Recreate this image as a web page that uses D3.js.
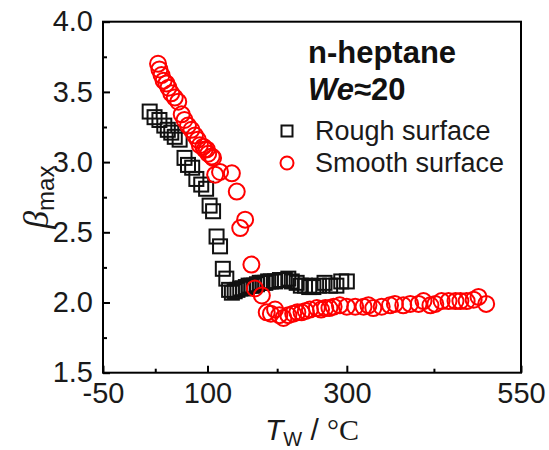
<!DOCTYPE html>
<html>
<head>
<meta charset="utf-8">
<script src="https://cdn.jsdelivr.net/npm/d3@7"></script>
<style>
body { margin: 0; background: #fff; }
svg text { font-family: Arial, "Liberation Sans", sans-serif; }
</style>
</head>
<body>
<script>
var svgWidth = 549;
var svgHeight = 450;

// rough surface (black squares): wall temperature, beta max
var roughT = [17, 24, 31, 38, 43, 48, 53, 60, 67, 72, 78, 84, 91, 98, 103, 108, 113, 118, 122, 127,
    131, 135, 139, 143, 147, 151, 155, 159, 163, 167, 171, 175, 179, 183, 187, 191, 197, 204, 211, 216,
    221, 228, 234, 240, 246, 252, 260, 268, 276, 285, 292, 300];
var roughBeta = [3.36, 3.32, 3.30, 3.26, 3.23, 3.21, 3.18, 3.16, 3.03, 2.98, 2.96, 2.88, 2.84, 2.81, 2.69, 2.65, 2.47, 2.40, 2.24, 2.17,
    2.09, 2.07, 2.08, 2.09, 2.10, 2.10, 2.11, 2.12, 2.12, 2.12, 2.13, 2.14, 2.14, 2.14, 2.15, 2.15, 2.15, 2.16, 2.16, 2.17,
    2.15, 2.14, 2.12, 2.12, 2.11, 2.11, 2.12, 2.14, 2.12, 2.12, 2.15, 2.15];

// smooth surface (red circles)
var smoothT = [29, 31, 34, 37, 41, 44, 48, 53, 58, 63, 67, 72, 77, 82, 86, 89, 94, 96, 99, 101, 106, 108, 111, 118, 135, 142,
    147, 154, 163, 168, 178,
    185, 191, 197, 203, 209, 216, 223, 229, 235, 241, 247, 257, 263, 269, 275, 281, 290, 300, 312, 324, 331, 338,
    350, 362, 369, 381, 391, 403, 410, 420, 427, 436, 446, 456, 463, 472, 482, 489, 500];
var smoothBeta = [3.70, 3.66, 3.62, 3.58, 3.56, 3.53, 3.49, 3.46, 3.43, 3.34, 3.30, 3.26, 3.23, 3.19, 3.16, 3.12, 3.11, 3.09, 3.09, 3.06, 3.04, 3.03, 2.91, 2.93, 2.92, 2.79,
    2.53, 2.59, 2.27, 2.10, 2.05,
    1.93, 1.92, 1.95, 1.91, 1.89, 1.91, 1.92, 1.93, 1.93, 1.94, 1.95, 1.96, 1.95, 1.96, 1.96, 1.97, 1.98, 1.97, 1.97, 1.97, 1.98, 1.96,
    1.97, 1.98, 1.99, 1.98, 1.99, 1.99, 2.01, 1.98, 1.99, 2.01, 2.01, 2.01, 2.01, 2.01, 2.02, 2.04, 1.99];

var xTicks = [-50, 100, 300, 550];
var xMinor = [25, 200, 425];
var yTicks = [1.5, 2.0, 2.5, 3.0, 3.5, 4.0];
var yMinor = [1.75, 2.25, 2.75, 3.25, 3.75];

var plotLeft = 103, plotRight = 521, plotTop = 21.7, plotBottom = 372.7;

var x = d3.scaleLinear().domain([-50, 550]).range([plotLeft, plotRight]);
var y = d3.scaleLinear().domain([1.5, 4.0]).range([plotBottom, plotTop]);

var svg = d3.select("body")
    .append("svg")
    .attr("width", svgWidth)
    .attr("height", svgHeight);

// frame
svg.append("rect")
    .attr("x", plotLeft).attr("y", plotTop)
    .attr("width", plotRight - plotLeft).attr("height", plotBottom - plotTop)
    .attr("fill", "none")
    .attr("stroke", "#000")
    .attr("stroke-width", 2);

svg.append("g")
    .attr("transform", "translate(0," + plotBottom + ")")
    .call(d3.axisBottom(x).tickValues(xTicks).tickSizeInner(-7).tickSizeOuter(0).tickPadding(10)
        .tickFormat(function (d) { return String(d); }));
svg.append("g")
    .attr("transform", "translate(0," + plotBottom + ")")
    .call(d3.axisBottom(x).tickValues(xMinor).tickSizeInner(-4).tickSizeOuter(0).tickFormat(""));

svg.append("g")
    .attr("transform", "translate(" + plotLeft + ",0)")
    .call(d3.axisLeft(y).tickValues(yTicks).tickSizeInner(-7).tickSizeOuter(0).tickPadding(10)
        .tickFormat(function (d) { return d.toFixed(1); }));
svg.append("g")
    .attr("transform", "translate(" + plotLeft + ",0)")
    .call(d3.axisLeft(y).tickValues(yMinor).tickSizeInner(-4).tickSizeOuter(0).tickFormat(""));

svg.selectAll(".domain").remove();
svg.selectAll(".tick line").attr("stroke", "#000").attr("stroke-width", 2);
svg.selectAll(".tick text")
    .attr("font-family", "Arial, 'Liberation Sans', sans-serif")
    .attr("font-size", 29)
    .attr("fill", "#1a1a1a");

// data
var roughData = roughT.map(function (t, i) { return [t, roughBeta[i]]; });
var smoothData = smoothT.map(function (t, i) { return [t, smoothBeta[i]]; });

var sq = 14;
svg.append("g").selectAll("rect")
    .data(roughData)
    .enter()
    .append("rect")
    .attr("x", function (d) { return x(d[0]) - sq / 2; })
    .attr("y", function (d) { return y(d[1]) - sq / 2; })
    .attr("width", sq)
    .attr("height", sq)
    .attr("fill", "none")
    .attr("stroke", "#111")
    .attr("stroke-width", 2);

svg.append("g").selectAll("circle")
    .data(smoothData)
    .enter()
    .append("circle")
    .attr("cx", function (d) { return x(d[0]); })
    .attr("cy", function (d) { return y(d[1]); })
    .attr("r", 8)
    .attr("fill", "none")
    .attr("stroke", "#ff0000")
    .attr("stroke-width", 2);

// legend
svg.append("text")
    .attr("x", 308).attr("y", 63)
    .attr("font-size", 31)
    .attr("font-weight", "bold")
    .attr("fill", "#111")
    .text("n-heptane");

var we = svg.append("text")
    .attr("x", 308).attr("y", 100)
    .attr("font-size", 31)
    .attr("font-weight", "bold")
    .attr("fill", "#111");
we.append("tspan").attr("font-style", "italic").text("We");
we.append("tspan").text("≈20");

svg.append("rect")
    .attr("x", 287 - 5.5).attr("y", 131 - 5.5)
    .attr("width", 11).attr("height", 11)
    .attr("fill", "none").attr("stroke", "#111").attr("stroke-width", 2);
svg.append("text")
    .attr("x", 315).attr("y", 140)
    .attr("font-size", 27)
    .attr("fill", "#1a1a1a")
    .text("Rough surface");

svg.append("circle")
    .attr("cx", 287).attr("cy", 163)
    .attr("r", 6.5)
    .attr("fill", "none").attr("stroke", "#ff0000").attr("stroke-width", 2);
svg.append("text")
    .attr("x", 315).attr("y", 172)
    .attr("font-size", 27)
    .attr("fill", "#1a1a1a")
    .text("Smooth surface");

// axis titles
var xt = svg.append("text")
    .attr("x", (plotLeft + plotRight) / 2).attr("y", 440)
    .attr("text-anchor", "middle")
    .attr("font-size", 30)
    .attr("fill", "#1a1a1a");
xt.append("tspan").attr("font-style", "italic").text("T");
xt.append("tspan").attr("font-size", 20).attr("dy", 6).text("W");
xt.append("tspan").attr("dy", -6).text(" / ");
xt.append("tspan").attr("font-family", "'Liberation Serif', 'Times New Roman', serif").text("°C");

var yt = svg.append("text")
    .attr("transform", "translate(48," + ((plotTop + plotBottom) / 2) + ") rotate(-90)")
    .attr("text-anchor", "middle")
    .attr("font-size", 36)
    .attr("fill", "#1a1a1a");
yt.append("tspan").attr("font-style", "italic")
    .attr("font-family", "'Liberation Serif', 'Times New Roman', serif").text("β");
yt.append("tspan").attr("font-size", 24).attr("dy", 6).text("max");
</script>
</body>
</html>
